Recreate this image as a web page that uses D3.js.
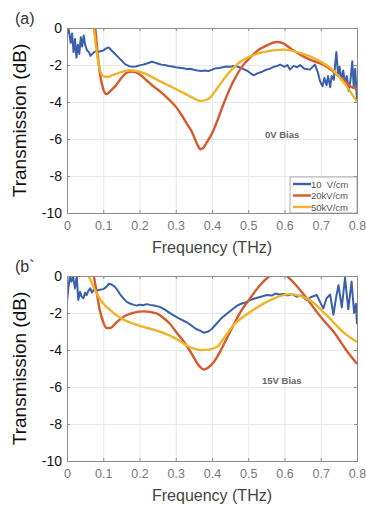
<!DOCTYPE html>
<html>
<head>
<meta charset="utf-8">
<script src="https://cdn.jsdelivr.net/npm/d3@7"></script>
<style>
  body { margin: 0; background: #fff; }
  text { font-family: "Liberation Sans", Arial, sans-serif; }
</style>
</head>
<body>
<div id="chart"></div>
<script>
// Axis ticks
const freqTicks = [0, 0.1, 0.2, 0.3, 0.4, 0.5, 0.6, 0.7, 0.8];
const dbTicks = [0, -2, -4, -6, -8, -10];
const seriesNames = ["10  V/cm", "20kV/cm", "50kV/cm"];

// Panel (a), 0V bias: [frequency THz, transmission dB]
const blueA = [[0,-0.3],[0.005,-0.1],[0.01,-0.8],[0.014,-0.3],[0.018,-1.3],[0.022,-0.6],[0.026,-1.6],[0.03,-0.9],
  [0.034,-1.4],[0.038,-0.5],[0.042,-1.0],[0.046,-0.4],[0.05,-0.9],[0.055,-1.2],[0.06,-1.3],[0.065,-1.5],[0.07,-1.4],
  [0.075,-1.3],[0.08,-1.25],[0.09,-1.27],[0.1,-1.22],[0.108,-1.1],[0.115,-1.05],[0.12,-1.15],[0.13,-1.35],[0.14,-1.55],
  [0.15,-1.75],[0.16,-1.95],[0.17,-2.05],[0.18,-2.1],[0.19,-2.08],[0.2,-2.02],[0.21,-1.98],[0.22,-1.92],[0.23,-1.85],
  [0.235,-1.82],[0.24,-1.86],[0.25,-1.92],[0.26,-1.98],[0.27,-2.0],[0.28,-2.05],[0.29,-2.08],[0.3,-2.12],[0.31,-2.15],
  [0.32,-2.18],[0.33,-2.22],[0.34,-2.2],[0.35,-2.26],[0.36,-2.3],[0.37,-2.33],[0.38,-2.3],[0.39,-2.33],[0.4,-2.25],
  [0.41,-2.18],[0.42,-2.16],[0.43,-2.12],[0.44,-2.08],[0.45,-2.1],[0.46,-2.05],[0.47,-2.08],[0.48,-2.16],[0.49,-2.25],
  [0.5,-2.35],[0.51,-2.5],[0.515,-2.56],[0.525,-2.45],[0.54,-2.35],[0.55,-2.25],[0.56,-2.2],[0.57,-2.1],[0.58,-2.05],
  [0.588,-1.98],[0.6,-2.1],[0.608,-2.0],[0.615,-2.25],[0.625,-2.05],[0.635,-2.12],[0.643,-2.0],[0.655,-2.2],[0.67,-2.25],
  [0.684,-1.98],[0.692,-2.4],[0.698,-2.88],[0.705,-3.15],[0.71,-2.7],[0.716,-3.1],[0.72,-2.6],[0.726,-3.2],[0.73,-2.6],
  [0.736,-2.8],[0.74,-1.9],[0.743,-1.3],[0.748,-2.6],[0.752,-2.1],[0.757,-2.8],[0.762,-2.3],[0.767,-3.0],[0.772,-2.6],
  [0.777,-3.4],[0.782,-2.8],[0.787,-1.8],[0.791,-3.2],[0.795,-2.2],[0.8,-3.9]];
const redA = [[0.07,1.0],[0.078,0],[0.085,-1.5],[0.092,-2.6],[0.1,-3.3],[0.108,-3.57],[0.115,-3.5],[0.125,-3.3],
  [0.135,-3.1],[0.15,-2.7],[0.167,-2.4],[0.18,-2.36],[0.19,-2.4],[0.2,-2.5],[0.215,-2.75],[0.235,-3.1],[0.255,-3.4],
  [0.28,-3.84],[0.3,-4.25],[0.317,-4.73],[0.33,-5.15],[0.345,-5.63],[0.355,-6.1],[0.363,-6.43],[0.368,-6.55],
  [0.375,-6.5],[0.385,-6.2],[0.4,-5.7],[0.413,-5.1],[0.431,-4.15],[0.459,-2.88],[0.487,-1.98],[0.505,-1.6],
  [0.523,-1.26],[0.55,-0.95],[0.578,-0.76],[0.595,-0.82],[0.615,-1.08],[0.643,-1.44],[0.67,-1.71],[0.707,-1.98],
  [0.725,-2.2],[0.744,-2.52],[0.765,-2.85],[0.781,-3.15],[0.8,-3.3]];
const yellowA = [[0.068,1.0],[0.074,0],[0.082,-1.3],[0.09,-2.2],[0.1,-2.6],[0.112,-2.65],[0.125,-2.55],[0.145,-2.41],
  [0.172,-2.28],[0.19,-2.32],[0.208,-2.41],[0.23,-2.6],[0.254,-2.86],[0.28,-3.1],[0.3,-3.3],[0.325,-3.55],[0.345,-3.75],
  [0.367,-3.95],[0.39,-3.84],[0.413,-3.3],[0.435,-2.7],[0.459,-2.16],[0.48,-1.8],[0.505,-1.53],[0.551,-1.26],
  [0.597,-1.17],[0.643,-1.35],[0.689,-1.71],[0.735,-2.3],[0.76,-2.85],[0.78,-3.4],[0.8,-4.0]];

// Panel (b), 15V bias
const blueB = [[0,-1.4],[0.004,-0.6],[0.008,0],[0.012,-0.3],[0.017,-0.05],[0.022,-0.67],[0.027,0],[0.031,-1.3],
  [0.036,-0.85],[0.04,-1.1],[0.045,-1.2],[0.05,-0.9],[0.054,-1.04],[0.059,-0.8],[0.064,-0.67],[0.069,-0.9],[0.073,-0.76],
  [0.082,-0.78],[0.09,-0.74],[0.1,-0.71],[0.108,-0.6],[0.115,-0.42],[0.122,-0.45],[0.13,-0.55],[0.137,-0.7],
  [0.145,-0.95],[0.155,-1.2],[0.165,-1.4],[0.175,-1.5],[0.185,-1.56],[0.193,-1.6],[0.2,-1.55],[0.21,-1.58],[0.22,-1.52],
  [0.229,-1.56],[0.24,-1.6],[0.256,-1.67],[0.27,-1.82],[0.28,-1.95],[0.294,-2.13],[0.31,-2.3],[0.33,-2.5],[0.345,-2.7],
  [0.355,-2.85],[0.367,-2.95],[0.378,-3.07],[0.39,-3.0],[0.4,-2.85],[0.413,-2.57],[0.425,-2.3],[0.44,-2.05],
  [0.459,-1.76],[0.47,-1.6],[0.48,-1.5],[0.49,-1.45],[0.505,-1.3],[0.52,-1.2],[0.535,-1.12],[0.551,-1.03],[0.565,-1.06],
  [0.575,-0.95],[0.585,-1.0],[0.597,-0.97],[0.61,-1.05],[0.62,-0.98],[0.634,-1.12],[0.645,-1.05],[0.661,-1.3],
  [0.672,-1.15],[0.689,-1.03],[0.698,-1.4],[0.707,-1.76],[0.716,-1.2],[0.726,-1.0],[0.735,-2.1],[0.742,-1.2],
  [0.749,-0.5],[0.758,-1.7],[0.767,-0.1],[0.776,-1.8],[0.785,-0.3],[0.792,-2.0],[0.797,-1.5],[0.8,-2.6]];
const redB = [[0.066,0.8],[0.074,0],[0.082,-0.9],[0.09,-1.8],[0.1,-2.5],[0.108,-2.8],[0.118,-2.82],[0.137,-2.5],
  [0.155,-2.22],[0.175,-2.04],[0.211,-1.91],[0.247,-2.02],[0.265,-2.25],[0.284,-2.58],[0.3,-3.0],[0.32,-3.49],
  [0.347,-4.3],[0.362,-4.8],[0.378,-5.05],[0.39,-4.95],[0.405,-4.65],[0.422,-4.1],[0.44,-3.4],[0.459,-2.66],
  [0.48,-1.9],[0.505,-1.21],[0.533,-0.49],[0.56,0],[0.583,0.15],[0.606,0],[0.625,-0.35],[0.643,-0.76],[0.665,-1.3],
  [0.689,-1.94],[0.71,-2.45],[0.735,-3.0],[0.77,-4.0],[0.8,-4.75]];
const yellowB = [[0.054,0.4],[0.06,0],[0.07,-0.45],[0.082,-0.95],[0.1,-1.49],[0.12,-1.85],[0.137,-2.13],[0.16,-2.4],
  [0.183,-2.58],[0.205,-2.72],[0.229,-2.85],[0.255,-3.0],[0.284,-3.22],[0.31,-3.5],[0.33,-3.76],[0.35,-3.92],
  [0.367,-4.0],[0.39,-3.98],[0.413,-3.84],[0.435,-3.3],[0.459,-2.66],[0.48,-2.3],[0.505,-1.94],[0.551,-1.4],
  [0.597,-1.03],[0.615,-0.98],[0.634,-1.03],[0.67,-1.3],[0.716,-2.12],[0.762,-3.03],[0.8,-3.57]];

const colors = ["#3a60ab", "#d65a2b", "#efb32c"];

const width = 366, height = 505;
const marginLeft = 67, marginRight = 9;
const plotH = 185;

const svg = d3.select("#chart").append("svg")
  .attr("width", width)
  .attr("height", height);

const x = d3.scaleLinear().domain([0, 0.8]).range([marginLeft, width - marginRight]);

function drawPanel(top, series, tag, biasText, biasY, showLegend, id) {
  const y = d3.scaleLinear().domain([0, -10]).range([top, top + plotH]);
  const g = svg.append("g");

  // grid
  g.append("g")
    .attr("transform", `translate(0,${top + plotH})`)
    .call(d3.axisBottom(x).tickValues(freqTicks).tickSize(-plotH).tickFormat(""))
    .call(s => s.select(".domain").remove())
    .call(s => s.selectAll("line").attr("stroke", "#e8e8e8"));
  g.append("g")
    .attr("transform", `translate(${marginLeft},0)`)
    .call(d3.axisLeft(y).tickValues(dbTicks).tickSize(-(width - marginRight - marginLeft)).tickFormat(""))
    .call(s => s.select(".domain").remove())
    .call(s => s.selectAll("line").attr("stroke", "#e8e8e8"));

  // clip
  g.append("clipPath").attr("id", id)
    .append("rect")
    .attr("x", marginLeft).attr("y", top)
    .attr("width", width - marginRight - marginLeft).attr("height", plotH);

  const line = d3.line().x(d => x(d[0])).y(d => y(d[1]));
  const smooth = d3.line().x(d => x(d[0])).y(d => y(d[1])).curve(d3.curveMonotoneX);

  const lines = g.append("g").attr("clip-path", `url(#${id})`);
  lines.append("path").datum(series[0])
    .attr("fill", "none").attr("stroke", colors[0]).attr("stroke-width", 2)
    .attr("stroke-linejoin", "round").attr("d", line);
  lines.append("path").datum(series[1])
    .attr("fill", "none").attr("stroke", colors[1]).attr("stroke-width", 2.4)
    .attr("d", smooth);
  lines.append("path").datum(series[2])
    .attr("fill", "none").attr("stroke", colors[2]).attr("stroke-width", 2.4)
    .attr("d", smooth);

  // axes with inward ticks
  g.append("g")
    .attr("transform", `translate(0,${top + plotH})`)
    .call(d3.axisBottom(x).tickValues(freqTicks).tickSize(-3).tickPadding(8)
      .tickFormat(d => d === 0 ? "0" : d.toFixed(1)))
    .call(s => s.select(".domain").attr("stroke", "#8c8c8c"))
    .call(s => s.selectAll("line").attr("stroke", "#8c8c8c"))
    .call(s => s.selectAll("text").attr("fill", "#777").attr("font-size", 12.5));
  g.append("g")
    .attr("transform", `translate(0,${top})`)
    .call(d3.axisTop(x).tickValues(freqTicks).tickSize(-3).tickFormat(""))
    .call(s => s.select(".domain").attr("stroke", "#8c8c8c"))
    .call(s => s.selectAll("line").attr("stroke", "#8c8c8c"));
  g.append("g")
    .attr("transform", `translate(${marginLeft},0)`)
    .call(d3.axisLeft(y).tickValues(dbTicks).tickSize(-3).tickPadding(5).tickFormat(d => String(d)))
    .call(s => s.select(".domain").attr("stroke", "#8c8c8c"))
    .call(s => s.selectAll("line").attr("stroke", "#8c8c8c"))
    .call(s => s.selectAll("text").attr("fill", "#111").attr("font-size", 14));
  g.append("g")
    .attr("transform", `translate(${width - marginRight},0)`)
    .call(d3.axisRight(y).tickValues(dbTicks).tickSize(-3).tickFormat(""))
    .call(s => s.select(".domain").attr("stroke", "#8c8c8c"))
    .call(s => s.selectAll("line").attr("stroke", "#8c8c8c"));

  // labels
  g.append("text").attr("x", 15).attr("y", top - 4)
    .attr("font-size", 16).attr("fill", "#333").text(tag);
  g.append("text")
    .attr("transform", `translate(26,${top + plotH / 2}) rotate(-90)`)
    .attr("text-anchor", "middle").attr("font-size", 19).attr("fill", "#111")
    .text("Transmission (dB)");
  g.append("text").attr("x", (marginLeft + width - marginRight) / 2).attr("y", top + plotH + 40)
    .attr("text-anchor", "middle").attr("font-size", 16).attr("fill", "#444")
    .text("Frequency (THz)");
  g.append("text").attr("x", biasY[0]).attr("y", biasY[1])
    .attr("font-size", 9.5).attr("font-weight", "bold").attr("fill", "#666")
    .text(biasText);

  if (showLegend) {
    const lx = 290, ly = top + 149;
    const lg = g.append("g");
    lg.append("rect").attr("x", lx).attr("y", ly)
      .attr("width", width - marginRight - lx).attr("height", top + plotH - ly)
      .attr("fill", "#fff").attr("stroke", "#999").attr("stroke-width", 0.8);
    seriesNames.forEach((name, i) => {
      const yy = ly + 7 + i * 11.5;
      lg.append("line").attr("x1", lx + 3).attr("x2", lx + 21)
        .attr("y1", yy).attr("y2", yy)
        .attr("stroke", colors[i]).attr("stroke-width", 2.4);
      lg.append("text").attr("x", lx + 21).attr("y", yy + 3.5)
        .attr("font-size", 9.5).attr("fill", "#555").attr("xml:space", "preserve")
        .style("white-space", "pre")
        .text(name);
    });
  }
}

drawPanel(28, [blueA, redA, yellowA], "(a)", "0V Bias", [265, 138], true, "clipA");
drawPanel(276, [blueB, redB, yellowB], "(b`", "15V Bias", [262, 384], false, "clipB");
</script>
</body>
</html>
